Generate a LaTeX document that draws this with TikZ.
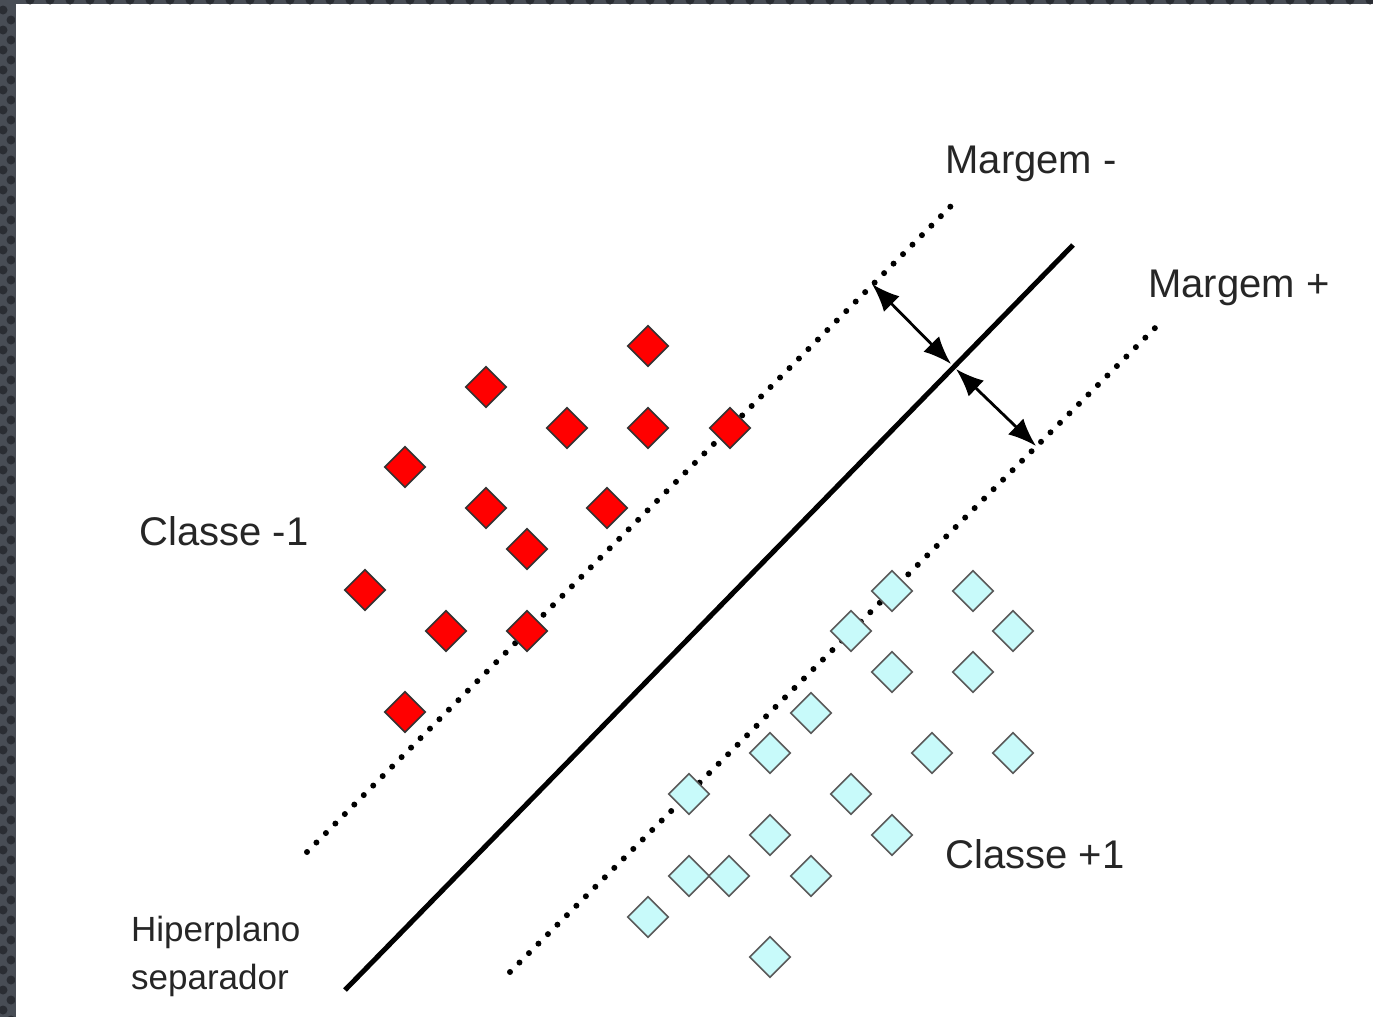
\documentclass[tikz,border=0pt]{standalone}
\usepackage{fontspec}
\setmainfont{Liberation Sans}
\usetikzlibrary{shapes.geometric,arrows.meta}
\definecolor{framegray}{HTML}{484D55}
\definecolor{framedot}{HTML}{2A2D33}
\definecolor{lightcyan}{HTML}{C8FAFA}
\definecolor{redfill}{HTML}{FF0000}
\tikzset{
  redpt/.style={diamond,draw=black!80,line width=1.6pt,fill=redfill,minimum width=41pt,minimum height=41pt,inner sep=0pt},
  cyanpt/.style={diamond,draw=black!65,line width=1.6pt,fill=lightcyan,minimum width=41pt,minimum height=41pt,inner sep=0pt},
  lbl/.style={font=\fontsize{40}{46}\selectfont,inner sep=0pt,text=black!85},
  smalllbl/.style={font=\fontsize{35}{48}\selectfont,inner sep=0pt,align=left,text=black!85},
  marginline/.style={line width=6pt,dash pattern=on 0pt off 13.4pt,line cap=round},
  hyper/.style={line width=5pt},
  dblarrow/.style={line width=2.8pt,{Latex[length=28pt,width=22pt]}-{Latex[length=28pt,width=22pt]}}
}
\begin{document}
\begin{tikzpicture}[x=1pt,y=-1pt]
\useasboundingbox (0,0) rectangle (1373,1017);
\fill[white] (0,0) rectangle (1373,1017);
% frame strips
\fill[framegray] (0,0) rectangle (15,1017);
\fill[framegray] (0,0) rectangle (1373,4);
\foreach \k in {0,...,50} {
  \fill[framedot] (3,{10+20*\k}) circle (4.5);
  \fill[framedot] (11,{20+20*\k}) circle (4.5);
}
\foreach \k in {0,...,68} {
  \fill[framedot] ({30+20*\k},0) circle (4.5);
}
\fill[framegray] (15,4) rectangle (16,1017);

% lines
\coordinate (hypA) at (345,990);
\coordinate (hypB) at (1073,245);
\coordinate (mmA) at (307,852);
\coordinate (mmB) at (952,205);
\coordinate (mpA) at (510,972);
\coordinate (mpB) at (1157,326);
\coordinate (arrTop) at (872,284);
\coordinate (arrMidU) at (951,364);
\coordinate (arrMidL) at (956,369);
\coordinate (arrBot) at (1036,446);

\draw[marginline] (mmA) -- (mmB);
\draw[marginline] (mpA) -- (mpB);
\draw[hyper] (hypA) -- (hypB);
\draw[dblarrow] (arrTop) -- (arrMidU);
\draw[dblarrow] (arrMidL) -- (arrBot);

% red points
\foreach \n/\x/\y in {r1/648/346, r2/486/387, r3/567/428, r4/648/428, r5/730/428,
  r6/405/467, r7/486/508, r8/607/508, r9/527/549, r10/365/590, r11/446/631,
  r12/527/631, r13/405/712}
  \node[redpt] (\n) at (\x,\y) {};

% cyan points
\foreach \n/\x/\y in {c1/892/591, c2/973/591, c3/851/631, c4/1013/631, c5/892/672,
  c6/973/672, c7/811/713, c8/770/753, c9/932/753, c10/1013/753, c11/689/794,
  c12/851/794, c13/770/835, c14/892/835, c15/689/876, c16/729/876, c17/811/876,
  c18/648/917, c19/770/957}
  \node[cyanpt] (\n) at (\x,\y) {};

% labels
\node[lbl] (mminus) at (1031,164) {Margem -};
\node[lbl] (mplus) at (1239,288) {Margem +};
\node[lbl] (cneg) at (224,531) {Classe -1};
\node[lbl] (cpos) at (1035,854) {Classe +1};
\node[smalllbl,anchor=north west] (hyplbl) at (131,916) {Hiperplano\\separador};
\end{tikzpicture}
\end{document}
